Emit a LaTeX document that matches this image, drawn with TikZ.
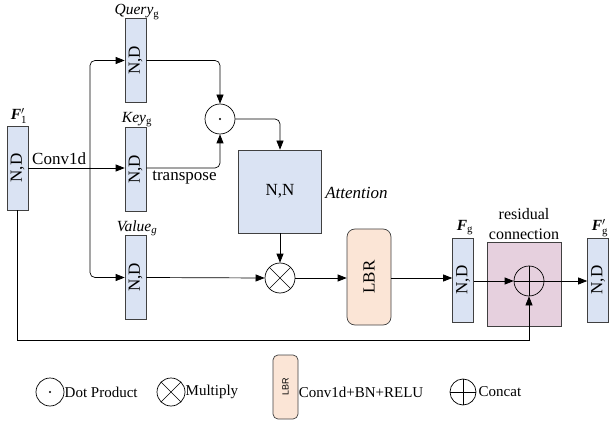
\documentclass[tikz,border=0pt]{standalone}
\usepackage{fontspec}
\setmainfont{Liberation Serif}
\setsansfont{Liberation Sans}
\usetikzlibrary{arrows.meta}
\definecolor{boxblue}{HTML}{DAE3F3}
\definecolor{boxorange}{HTML}{FBE5D6}
\definecolor{boxpink}{HTML}{E6D0DE}
\begin{document}
\begin{tikzpicture}
  [x=1pt,y=-1pt,line width=.7pt,
   every node/.style={font=\fontsize{17}{19}\selectfont,inner sep=0pt},
   feat/.style={draw=black!75,fill=boxblue,minimum width=21pt,minimum height=84pt},
   op/.style={draw,circle,minimum size=30pt},
   lab/.style={font=\fontsize{15.5}{17}\selectfont},
   leg/.style={font=\fontsize{15}{17}\selectfont,anchor=west},
   arr/.style={-{Triangle[length=9pt,width=7pt]}}]
 \useasboundingbox (0,0) rectangle (613,422);

 % feature maps
 \node[feat] (f1) at (17.5,168) {\rotatebox{90}{N,D}};
 \node[feat] (query) at (135.5,60.5) {\rotatebox{90}{N,D}};
 \node[feat] (key) at (135.5,169.5) {\rotatebox{90}{N,D}};
 \node[feat] (value) at (135.5,277.5) {\rotatebox{90}{N,D}};
 \node[draw=black!75,fill=boxblue,minimum size=83pt] (att) at (280,191.5) {N,N};
 \node[draw=black!75,fill=boxorange,rounded corners=8pt,minimum width=44pt,minimum height=96pt] (lbr) at (369,277) {\rotatebox{90}{LBR}};
 \node[feat] (fg) at (463,280) {\rotatebox{90}{N,D}};
 \node[draw=black!75,fill=boxpink,minimum width=74pt,minimum height=84pt] (res) at (524,284) {};
 \node[feat] (fgout) at (598,280) {\rotatebox{90}{N,D}};

 % operators
 \node[op] (dot) at (220,119) {};
 \fill (dot.center) circle (1.2pt);
 \node[op,path picture={\draw (path picture bounding box.north west) -- (path picture bounding box.south east)
   (path picture bounding box.north east) -- (path picture bounding box.south west);}] (mul) at (280,278) {};
 \node[op,path picture={\draw (path picture bounding box.north) -- (path picture bounding box.south)
   (path picture bounding box.west) -- (path picture bounding box.east);}] (cat) at (529,281) {};

 % labels
 \node[lab] (lf1) at (19,116) {\textbf{\textit{F}}$^{\prime}_{\mathrm{1}}$};
 \node[lab] (lq) at (137,12) {\textit{Query}\textsubscript{g}};
 \node[lab] (lk) at (137,120) {\textit{Key}\textsubscript{g}};
 \node[lab] (lv) at (137,228) {\textit{Value\textsubscript{g}}};
 \node[anchor=west] (latt) at (325,193) {\textit{Attention}};
 \node[anchor=west] (ltr) at (152,178) {transpose};
 \node[lab] (lfg) at (465,228) {\textbf{\textit{F}}\textsubscript{g}};
 \node[lab] (lfgout) at (600,228) {\textbf{\textit{F}}$^{\prime}_{\mathrm{g}}$};
 \node[align=center,font=\fontsize{16}{20}\selectfont] (lres) at (524,224) {residual\\connection};

 % connections
 \coordinate (br) at (90,168);
 \coordinate (low) at (529,340);
 \draw[arr] (f1.east |- br) -- node[above=3pt,pos=.32] {Conv1d} (key.west |- br);
 \draw[arr,rounded corners=5pt] (br) |- (query.west);
 \draw[arr,rounded corners=5pt] (br) |- (value.west);
 \draw[arr,rounded corners=5pt] (query.east) -| (dot.north);
 \draw[arr,rounded corners=5pt] (key.east |- br) -| (dot.south);
 \draw[arr,rounded corners=5pt] (dot.east) -| (att.north);
 \draw[arr] (att.south) -- (mul.north);
 \draw[arr] (value.east) -- (mul.west);
 \draw[arr] (mul.east) -- (lbr.west |- mul);
 \draw[arr] (lbr.east |- mul) -- (fg.west |- mul);
 \draw[arr] (fg.east |- cat) -- (cat.west);
 \draw[arr] (cat.east) -- (fgout.west |- cat);
 \draw[arr] (f1.south) |- (low) -- (cat.south);

 % legend
 \node[draw,circle,minimum size=28pt] (ldot) at (50,392) {};
 \fill (ldot.center) circle (1.2pt);
 \node[leg] (tdot) at (ldot.east) {Dot Product};
 \node[draw,circle,minimum size=28pt,path picture={\draw (path picture bounding box.north west) -- (path picture bounding box.south east)
   (path picture bounding box.north east) -- (path picture bounding box.south west);}] (lmul) at (171,392) {};
 \node[leg] (tmul) at (lmul.east) {Multiply};
 \node[draw=black!75,fill=boxorange,rounded corners=5pt,minimum width=25pt,minimum height=64pt] (llbr) at (285.5,387) {\rotatebox{90}{\sffamily\fontsize{9}{10}\selectfont LBR}};
 \node[leg] (tlbr) at (298.5,392) {Conv1d+BN+RELU};
 \node[draw,circle,minimum size=26pt,path picture={\draw (path picture bounding box.north) -- (path picture bounding box.south)
   (path picture bounding box.west) -- (path picture bounding box.east);}] (lcat) at (463,392) {};
 \node[leg] (tcat) at ([xshift=2pt]lcat.east) {Concat};
\end{tikzpicture}
\end{document}
